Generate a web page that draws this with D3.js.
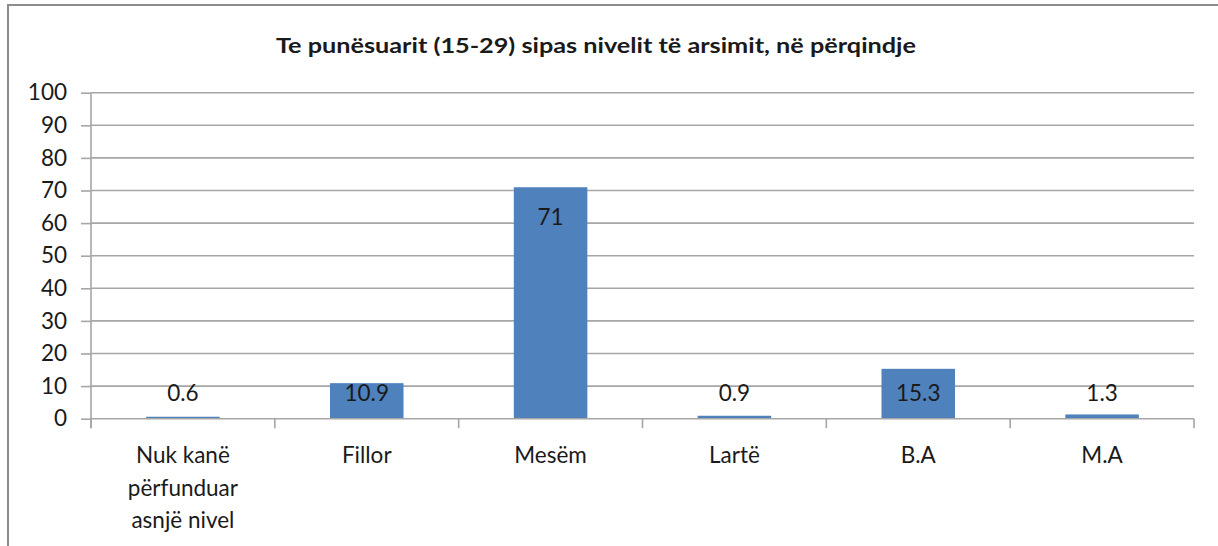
<!DOCTYPE html>
<html>
<head>
<meta charset="utf-8">
<script src="https://cdn.jsdelivr.net/npm/d3@7/dist/d3.min.js"></script>
<style>
  html, body { margin: 0; padding: 0; background: #fff; }
  svg { display: block; }
  text { font-family: "Lato", "Open Sans", sans-serif; fill: #1a1a1a; }
</style>
</head>
<body>
<svg id="chart" width="1218" height="546"></svg>
<script>
// Employed youth (15-29) by education level, in percent
const titleText = "Te punësuarit (15-29) sipas nivelit të arsimit,  në përqindje";
const categories = [
  ["Nuk kanë", "përfunduar", "asnjë nivel"],
  ["Fillor"],
  ["Mesëm"],
  ["Lartë"],
  ["B.A"],
  ["M.A"]
];
const values = [0.6, 10.9, 71, 0.9, 15.3, 1.3];
const valueLabels = ["0.6", "10.9", "71", "0.9", "15.3", "1.3"];
const yTicks = [0, 10, 20, 30, 40, 50, 60, 70, 80, 90, 100];

const svg = d3.select("#chart");
const W = 1218, H = 546;
const plot = { left: 91, right: 1194, top: 92.7, bottom: 418.7 };
const fontSize = 22.5;

// outer chart frame (top and left edges visible)
svg.append("path")
  .attr("d", `M8,${H} L8,5 L${W},5`)
  .attr("fill", "none")
  .attr("stroke", "#8c8c8c")
  .attr("stroke-width", 2);

// title
svg.append("text")
  .attr("x", 596)
  .attr("y", 53)
  .attr("text-anchor", "middle")
  .attr("font-size", 21)
  .attr("font-weight", "bold")
  .attr("textLength", 640)
  .attr("lengthAdjust", "spacingAndGlyphs")
  .text(titleText);

const x = d3.scaleBand()
  .domain(d3.range(categories.length))
  .range([plot.left, plot.right])
  .paddingInner(0.6)
  .paddingOuter(0.3);

const xOuter = d3.scaleBand()
  .domain(d3.range(categories.length))
  .range([plot.left, plot.right]);

const y = d3.scaleLinear().domain([0, 100]).range([plot.bottom, plot.top]);

// horizontal gridlines
svg.append("g")
  .selectAll("line")
  .data(yTicks.filter(t => t > 0))
  .join("line")
  .attr("x1", plot.left)
  .attr("x2", plot.right)
  .attr("y1", d => y(d))
  .attr("y2", d => y(d))
  .attr("stroke", "#a6a6a6")
  .attr("stroke-width", 1.6);

// y axis
const yAxis = d3.axisLeft(y).tickValues(yTicks).tickSize(10).tickPadding(14);
const gy = svg.append("g")
  .attr("transform", `translate(${plot.left},0)`)
  .call(yAxis);
gy.select(".domain").attr("stroke", "#a6a6a6").attr("stroke-width", 1.6)
  .attr("d", `M0,${plot.top}V${plot.bottom + 9.5}`);
gy.selectAll(".tick line").attr("stroke", "#a6a6a6").attr("stroke-width", 1.6);
gy.selectAll(".tick text")
  .attr("font-size", fontSize)
  .attr("fill", "#1a1a1a")
  .style("font-family", "Lato, sans-serif");

// bars
svg.append("g")
  .selectAll("rect")
  .data(values)
  .join("rect")
  .attr("x", (d, i) => x(i))
  .attr("width", x.bandwidth())
  .attr("y", d => y(d))
  .attr("height", d => y(0) - y(d))
  .attr("fill", "#4f81bd");

// x axis baseline and category separators
svg.append("line")
  .attr("x1", plot.left).attr("x2", plot.right)
  .attr("y1", y(0)).attr("y2", y(0))
  .attr("stroke", "#a6a6a6").attr("stroke-width", 1.6);

const sepPositions = d3.range(categories.length + 1).map(i =>
  i < categories.length ? xOuter(i) : xOuter(i - 1) + xOuter.bandwidth());
svg.append("g")
  .selectAll("line")
  .data(sepPositions)
  .join("line")
  .attr("x1", d => d).attr("x2", d => d)
  .attr("y1", y(0)).attr("y2", y(0) + 9.5)
  .attr("stroke", "#a6a6a6").attr("stroke-width", 1.6);

// category labels
const catG = svg.append("g")
  .selectAll("text")
  .data(categories)
  .join("text")
  .attr("x", (d, i) => xOuter(i) + xOuter.bandwidth() / 2)
  .attr("y", 463)
  .attr("text-anchor", "middle")
  .attr("font-size", fontSize);
catG.selectAll("tspan")
  .data(d => d)
  .join("tspan")
  .attr("x", function () { return this.parentNode.getAttribute("x"); })
  .attr("dy", (d, i) => i === 0 ? 0 : 32.5)
  .text(d => d);

// value labels
svg.append("g")
  .selectAll("text")
  .data(values)
  .join("text")
  .attr("x", (d, i) => x(i) + x.bandwidth() / 2)
  .attr("y", d => d > 40 ? y(d) + 38 : y(0) - 18)
  .attr("text-anchor", "middle")
  .attr("font-size", fontSize)
  .text((d, i) => valueLabels[i]);
</script>
</body>
</html>
